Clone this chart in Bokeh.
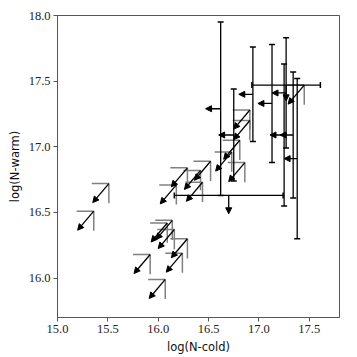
import math
from bokeh.plotting import figure
from bokeh.models import Arrow, NormalHead, ColumnDataSource, Range1d, FixedTicker
from bokeh.embed import file_html
from bokeh.resources import INLINE

# --- upper limits in both quantities (corner markers with diagonal arrows)
ul_x = [15.51, 15.36, 15.92, 16.07, 16.14, 16.09, 16.16, 16.29, 16.24, 16.18,
        16.29, 16.42, 16.44, 16.52, 16.81, 16.86, 16.91, 16.91, 17.45, 16.73]
ul_y = [16.72, 16.51, 16.18, 15.99, 16.44, 16.42, 16.37, 16.30, 16.19, 16.71,
        16.84, 16.82, 16.73, 16.89, 17.05, 16.88, 17.28, 17.20, 17.47, 16.96]

# --- detections in N-warm with upper limit in N-cold
xl_x = [16.62, 16.75, 16.94, 17.13, 17.27, 17.25, 17.34, 17.38]
xl_y = [17.29, 17.09, 17.40, 17.33, 17.41, 17.09, 17.09, 16.91]
xl_yerr = [0.66, 0.35, 0.36, 0.45, 0.42, 0.54, 0.48, 0.61]
xl_len = [0.15, 0.15, 0.14, 0.14, 0.14, 0.14, 0.13, 0.13]

# --- detections in N-cold with upper limit in N-warm
yl_x = [16.70, 17.27]
yl_y = [16.63, 17.47]
yl_xerr = [0.54, 0.34]
yl_len = [0.14, 0.12]

x_ticks = [15.0, 15.5, 16.0, 16.5, 17.0, 17.5]
x_tick_labels = ["15.0", "15.5", "16.0", "16.5", "17.0", "17.5"]
y_ticks = [16.0, 16.5, 17.0, 17.5, 18.0]
y_tick_labels = ["16.0", "16.5", "17.0", "17.5", "18.0"]

# corner/arrow extents for the limit markers
CORNER_DX = 0.17
CORNER_DY = 0.15
ARROW_DX = 0.16
ARROW_DY = 0.145

p = figure(frame_width=282, frame_height=302,
           x_range=Range1d(15.0, 17.8), y_range=Range1d(15.7, 18.0),
           output_backend="svg", toolbar_location=None,
           min_border_left=57, min_border_right=14,
           min_border_top=15, min_border_bottom=36)
p.grid.visible = False
p.background_fill_color = "white"
p.border_fill_color = "white"
p.outline_line_color = "#555555"
p.outline_line_width = 1

for ax in (p.xaxis[0], p.yaxis[0]):
    ax.axis_line_color = "#555555"
    ax.major_tick_line_color = "#555555"
    ax.major_tick_out = 4
    ax.major_tick_in = 0
    ax.minor_tick_line_color = None
    ax.major_label_text_font = "Liberation Serif"
    ax.major_label_text_font_size = "12.5px"
    ax.major_label_text_color = "#222222"
    ax.major_label_standoff = 3
    ax.axis_label_text_font = "DejaVu Sans"
    ax.axis_label_text_font_size = "11.5px"
    ax.axis_label_text_font_style = "normal"
    ax.axis_label_text_color = "#111111"
    ax.axis_label_standoff = 4

p.xaxis[0].ticker = FixedTicker(ticks=x_ticks)
p.xaxis[0].major_label_overrides = dict(zip(x_ticks, x_tick_labels))
p.yaxis[0].ticker = FixedTicker(ticks=y_ticks)
p.yaxis[0].major_label_overrides = dict(zip(y_ticks, y_tick_labels))
p.xaxis[0].axis_label = "log(N-cold)"
p.yaxis[0].axis_label = "log(N-warm)"

# gray corner lines of the double upper limits
p.segment(x0=[x - CORNER_DX for x in ul_x], y0=ul_y, x1=ul_x, y1=ul_y,
          line_color="#808080", line_width=1.5)
p.segment(x0=ul_x, y0=ul_y, x1=ul_x, y1=[y - CORNER_DY for y in ul_y],
          line_color="#808080", line_width=1.5)

# diagonal arrows
diag = ColumnDataSource(dict(xs=ul_x, ys=ul_y,
                             xe=[x - ARROW_DX for x in ul_x],
                             ye=[y - ARROW_DY for y in ul_y]))
p.add_layout(Arrow(end=NormalHead(size=6, fill_color="black", line_color="black", line_width=1),
                   x_start="xs", y_start="ys", x_end="xe", y_end="ye",
                   source=diag, line_color="black", line_width=1.3))

# vertical error bars with caps for the N-cold upper limits
p.segment(x0=xl_x, y0=[y - e for y, e in zip(xl_y, xl_yerr)],
          x1=xl_x, y1=[y + e for y, e in zip(xl_y, xl_yerr)],
          line_color="black", line_width=1.3)
p.scatter(x=xl_x + xl_x,
          y=[y - e for y, e in zip(xl_y, xl_yerr)] + [y + e for y, e in zip(xl_y, xl_yerr)],
          marker="dash", size=6, line_color="black", line_width=1.5)
left = ColumnDataSource(dict(xs=xl_x, ys=xl_y,
                             xe=[x - l for x, l in zip(xl_x, xl_len)], ye=xl_y))
p.add_layout(Arrow(end=NormalHead(size=6, fill_color="black", line_color="black", line_width=1),
                   x_start="xs", y_start="ys", x_end="xe", y_end="ye",
                   source=left, line_color="black", line_width=1.3))

# horizontal error bars with caps for the N-warm upper limits
p.segment(x0=[x - e for x, e in zip(yl_x, yl_xerr)], y0=yl_y,
          x1=[x + e for x, e in zip(yl_x, yl_xerr)], y1=yl_y,
          line_color="black", line_width=1.3)
p.scatter(x=[x - e for x, e in zip(yl_x, yl_xerr)] + [x + e for x, e in zip(yl_x, yl_xerr)],
          y=yl_y + yl_y, marker="dash", angle=math.pi / 2,
          size=6, line_color="black", line_width=1.5)
down = ColumnDataSource(dict(xs=yl_x, ys=yl_y, xe=yl_x,
                             ye=[y - l for y, l in zip(yl_y, yl_len)]))
p.add_layout(Arrow(end=NormalHead(size=6, fill_color="black", line_color="black", line_width=1),
                   x_start="xs", y_start="ys", x_end="xe", y_end="ye",
                   source=down, line_color="black", line_width=1.3))

open("out.html", "w").write(file_html(p, INLINE))
